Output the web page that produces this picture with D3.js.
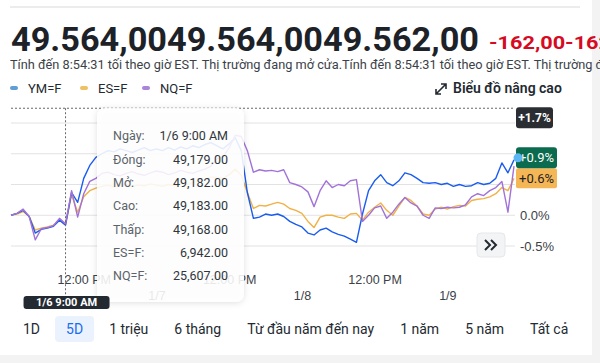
<!DOCTYPE html>
<html>
<head>
<meta charset="utf-8">
<script src="https://cdn.jsdelivr.net/npm/d3@7"></script>
<style>
  body { margin: 0; background: #fff; }
  svg { display: block; font-family: Roboto, "Liberation Sans", Arial, sans-serif; }
</style>
</head>
<body>
<div id="chart"></div>
<script>
// ---- data ----
// hours after 1/6 00:00 EST
var hours = [0,1,2,3,4,5,6,7,8,9,10,11,12,13,14,15,16,17,18,19,20,21,22,23,24,25,26,27,28,29,
  30,31,32,33,34,35,36,37,38,39,40,41,42,43,44,45,46,47,48,49,50,51,52,53,54,55,56,57,58,59,
  60,61,62,63,64,65,66,67,68,69,70,71,72,73,74,75,76,77,78,79,80,81,82,83];

// % change, YM=F
var ymValues = [0.00,0.03,0.08,-0.02,-0.29,-0.23,-0.21,-0.18,-0.08,-0.16,
  0.37,0.21,0.60,0.81,0.94,1.00,1.05,1.03,1.08,1.05,
  1.02,1.06,1.10,1.05,1.08,1.05,1.10,1.06,1.11,1.08,
  1.13,1.10,1.15,1.18,1.13,1.08,1.16,1.26,1.05,0.37,
  -0.05,-0.03,0.02,0.00,0.02,-0.02,-0.10,-0.15,-0.19,-0.29,
  -0.32,-0.24,-0.21,-0.27,-0.31,-0.34,-0.39,-0.44,0.02,0.40,
  0.56,0.66,0.53,0.48,0.56,0.69,0.66,0.60,0.53,0.52,
  0.53,0.50,0.52,0.47,0.50,0.47,0.48,0.53,0.50,0.52,
  0.60,0.85,0.69,0.90];

// % change, ES=F
var esValues = [0.00,0.02,0.06,-0.02,-0.24,-0.21,-0.19,-0.16,-0.08,-0.15,
  0.33,0.05,0.30,0.40,0.44,0.47,0.49,0.46,0.48,0.50,
  0.47,0.49,0.48,0.51,0.49,0.47,0.50,0.48,0.52,0.50,
  0.53,0.55,0.58,0.62,0.62,0.60,0.66,0.75,0.65,0.37,
  0.11,0.16,0.15,0.18,0.21,0.18,0.11,0.08,0.03,-0.10,
  -0.20,-0.03,0.00,0.00,-0.03,-0.05,0.02,0.03,-0.08,0.05,
  0.13,0.20,0.08,0.00,0.15,0.29,0.24,0.15,0.02,0.00,
  0.10,0.13,0.10,0.14,0.16,0.15,0.24,0.26,0.27,0.30,
  0.35,0.45,0.40,0.60];

// % change, NQ=F
var nqValues = [0.00,0.03,0.10,-0.02,-0.40,-0.22,-0.20,-0.17,-0.05,-0.14,
  0.40,-0.03,0.35,0.55,0.60,0.68,0.70,0.66,0.64,0.68,
  0.71,0.67,0.65,0.69,0.72,0.70,0.66,0.69,0.73,0.70,
  0.68,0.72,0.75,0.80,0.92,0.95,1.10,1.30,1.28,1.05,
  0.70,0.74,0.72,0.73,0.71,0.74,0.53,0.50,0.46,0.38,
  0.14,0.40,0.56,0.45,0.50,0.48,0.56,0.58,-0.10,0.00,
  0.12,0.15,-0.05,0.05,0.18,0.29,0.20,0.15,0.00,-0.05,
  0.12,0.11,0.13,0.12,0.13,0.17,0.30,0.35,0.32,0.40,
  0.45,0.55,0.05,0.80];

var seriesNames = ["YM=F", "ES=F", "NQ=F"];
var gridValues = [1.5, 1.0, 0.5, 0.0, -0.5];
var axisLabelValues = [0.0, -0.5];
var noonTicks = ["2026-01-06 12:00", "2026-01-07 12:00", "2026-01-08 12:00"];
var dayTicks = ["2026-01-07 00:00", "2026-01-08 00:00", "2026-01-09 00:00"];
var crosshairHour = 9;
var crosshairValue = 1.74;
var tipLabels = ["Ngày:", "Đóng:", "Mở:", "Cao:", "Thấp:", "ES=F:", "NQ=F:"];
var tipValues = ["1/6 9:00 AM", "49,179.00", "49,182.00", "49,183.00", "49,168.00", "6,942.00", "25,607.00"];
var rangeButtons = ["1D", "5D", "1 triệu", "6 tháng", "Từ đầu năm đến nay", "1 năm", "5 năm", "Tất cả"];

// ---- page ----
var W = 600, H = 363;
var svg = d3.select("#chart").append("svg")
    .attr("width", W)
    .attr("height", H);

var defs = svg.append("defs");
var shadow = defs.append("filter").attr("id", "tipShadow")
    .attr("x", "-20%").attr("y", "-20%").attr("width", "140%").attr("height", "140%");
shadow.append("feDropShadow").attr("dx", 0).attr("dy", 1).attr("stdDeviation", 3)
    .attr("flood-color", "#000").attr("flood-opacity", 0.14);

// page frame (gray strips at right and bottom)
svg.append("rect").attr("x", 592).attr("y", 0).attr("width", 8).attr("height", H).attr("fill", "#f3f3f3");
svg.append("rect").attr("x", 0).attr("y", 355).attr("width", W).attr("height", 8).attr("fill", "#f3f3f3");
svg.append("line").attr("x1", 10).attr("x2", 580).attr("y1", 7).attr("y2", 7)
    .attr("stroke", "#e6e6e6").attr("stroke-width", 1.5);

// header
svg.append("text").attr("x", 11).attr("y", 51)
    .attr("font-size", 34).attr("font-weight", 700).attr("fill", "#1d2228")
    .attr("textLength", 468).attr("lengthAdjust", "spacingAndGlyphs")
    .text("49.564,0049.564,0049.562,00");
svg.append("text").attr("x", 489).attr("y", 49)
    .attr("font-size", 18).attr("font-weight", 700).attr("fill", "#d60a22")
    .attr("textLength", 122).attr("lengthAdjust", "spacingAndGlyphs")
    .text("-162,00-162");
svg.append("text").attr("x", 10).attr("y", 69)
    .attr("font-size", 12.5).attr("fill", "#3b4148")
    .attr("textLength", 664).attr("lengthAdjust", "spacingAndGlyphs")
    .text("Tính đến 8:54:31 tối theo giờ EST. Thị trường đang mở cửa.Tính đến 8:54:31 tối theo giờ EST. Thị trường đang mở cửa.");

// scales
var parseT = d3.timeParse("%Y-%m-%d %H:%M");
var t0 = parseT("2026-01-06 00:00");
function toTime(h) { return d3.timeHour.offset(t0, h); }

var x = d3.scaleTime()
    .domain([toTime(hours[0]), toTime(hours[hours.length - 1])])
    .range([11, 514]);
var y = d3.scaleLinear()
    .domain([-0.5, 1.5])
    .range([246, 123]);

var color = d3.scaleOrdinal().domain(seriesNames).range(["#1a5cf0", "#f0b146", "#a172d8"]);
var legendColor = d3.scaleOrdinal().domain(seriesNames).range(["#5f9fd6", "#efc064", "#a985da"]);

// legend
var legendX = [10, 80, 142];
var legend = svg.append("g");
seriesNames.forEach(function (name, i) {
  legend.append("rect").attr("x", legendX[i]).attr("y", 86).attr("width", 8).attr("height", 4).attr("rx", 2)
      .attr("fill", legendColor(name));
  legend.append("text").attr("x", legendX[i] + 18).attr("y", 88).attr("dy", "0.35em")
      .attr("font-size", 13).attr("fill", "#232a31").text(name);
});

// advanced chart link
svg.append("path")
    .attr("d", "M436,94 L446,84 M441,84 L446,84 L446,89 M436,89 L436,94 L441,94")
    .attr("fill", "none").attr("stroke", "#232a31").attr("stroke-width", 1.6);
svg.append("text").attr("x", 453).attr("y", 88).attr("dy", "0.35em")
    .attr("font-size", 14).attr("font-weight", 600).attr("fill", "#232a31")
    .text("Biểu đồ nâng cao");

// gridlines
svg.append("g")
  .selectAll("line")
  .data(gridValues)
  .enter()
  .append("line")
    .attr("x1", 11).attr("x2", 515)
    .attr("y1", function (d) { return y(d); })
    .attr("y2", function (d) { return y(d); })
    .attr("stroke", "#e2e2e2").attr("stroke-width", 1);

// y labels
var yAxis = svg.append("g")
    .attr("transform", "translate(514,0)")
    .call(d3.axisRight(y).tickValues(axisLabelValues).tickSize(0).tickPadding(6)
      .tickFormat(function (d) { return d.toFixed(1) + "%"; }));
yAxis.select(".domain").remove();
yAxis.selectAll("text").attr("font-size", 13).attr("fill", "#3b4148").attr("font-family", null);

// x labels (two rows)
var noonAxis = svg.append("g")
    .attr("transform", "translate(0,270)")
    .call(d3.axisBottom(x).tickValues(noonTicks.map(parseT)).tickSize(0).tickPadding(5)
      .tickFormat(d3.timeFormat("%-I:%M %p")));
var dayAxis = svg.append("g")
    .attr("transform", "translate(0,286)")
    .call(d3.axisBottom(x).tickValues(dayTicks.map(parseT)).tickSize(0).tickPadding(5)
      .tickFormat(d3.timeFormat("%-m/%-d")));
[noonAxis, dayAxis].forEach(function (ax) {
  ax.select(".domain").remove();
  ax.selectAll("text").attr("font-size", 12.5).attr("fill", "#3b4148").attr("font-family", null);
});

// lines
var line = d3.line()
    .x(function (d) { return x(toTime(d.h)); })
    .y(function (d) { return y(d.v); });
var seriesData = {
  "YM=F": ymValues,
  "ES=F": esValues,
  "NQ=F": nqValues
};
["ES=F", "YM=F", "NQ=F"].forEach(function (name) {
  var pts = hours.map(function (h, i) { return {h: h, v: seriesData[name][i]}; });
  svg.append("path")
      .datum(pts)
      .attr("fill", "none")
      .attr("stroke", color(name))
      .attr("stroke-width", 1.4)
      .attr("stroke-linejoin", "round")
      .attr("d", line);
});

// crosshair
var cx = x(toTime(crosshairHour)), cy = y(crosshairValue);
svg.append("line").attr("x1", 11).attr("x2", 514).attr("y1", cy).attr("y2", cy)
    .attr("stroke", "#666").attr("stroke-dasharray", "2,2").attr("stroke-width", 1);
svg.append("line").attr("x1", cx).attr("x2", cx).attr("y1", cy).attr("y2", 297)
    .attr("stroke", "#666").attr("stroke-dasharray", "2,2").attr("stroke-width", 1);

// tooltip
svg.append("rect").attr("x", 97).attr("y", 108).attr("width", 147).attr("height", 194).attr("rx", 8)
    .attr("fill", "#fff").attr("fill-opacity", 0.87).attr("filter", "url(#tipShadow)");
var row = d3.scalePoint().domain(tipLabels).range([136, 276]);
var tip = svg.append("g").attr("font-size", 12.5);
tip.selectAll(".lab").data(tipLabels).enter().append("text")
    .attr("x", 113).attr("y", function (d) { return row(d); }).attr("dy", "0.35em")
    .attr("fill", "#5b636a").text(function (d) { return d; });
tip.selectAll(".val").data(tipValues).enter().append("text")
    .attr("x", 228).attr("y", function (d, i) { return row(tipLabels[i]); }).attr("dy", "0.35em")
    .attr("text-anchor", "end").attr("fill", "#30363c").text(function (d) { return d; });

// crosshair time badge
svg.append("rect").attr("x", cx - 42).attr("y", 296).attr("width", 86).attr("height", 13).attr("rx", 3)
    .attr("fill", "#232a31");
svg.append("text").attr("x", cx + 1).attr("y", 302.5).attr("dy", "0.35em").attr("text-anchor", "middle")
    .attr("font-size", 11).attr("font-weight", 700).attr("fill", "#fff")
    .text(tipValues[0]);

// right side value badges
var fmtPct = function (v) { return d3.format("+.1f")(v).replace("\u2212", "-") + "%"; };
svg.append("rect").attr("x", 516).attr("y", cy - 1).attr("width", 37).attr("height", 21).attr("rx", 3)
    .attr("fill", "#2a2e33");
svg.append("text").attr("x", 534.5).attr("y", cy + 9.5).attr("dy", "0.35em").attr("text-anchor", "middle")
    .attr("font-size", 12).attr("font-weight", 700).attr("fill", "#fff").text(fmtPct(crosshairValue));

var esLast = esValues[esValues.length - 1], ymLast = ymValues[ymValues.length - 1];
var esY = y(esLast);
svg.append("rect").attr("x", 516).attr("y", esY - 10).attr("width", 41).attr("height", 20).attr("rx", 2)
    .attr("fill", "#f5b756");
svg.append("text").attr("x", 536.5).attr("y", esY).attr("dy", "0.35em").attr("text-anchor", "middle")
    .attr("font-size", 13).attr("fill", "#1d2228").text(fmtPct(esLast));
svg.append("rect").attr("x", 516).attr("y", esY - 31).attr("width", 41).attr("height", 21).attr("rx", 3)
    .attr("fill", "#0b6b4e");
svg.append("text").attr("x", 536.5).attr("y", esY - 20.5).attr("dy", "0.35em").attr("text-anchor", "middle")
    .attr("font-size", 13).attr("fill", "#fff").text(fmtPct(ymLast));
svg.append("circle").attr("cx", x(toTime(hours[hours.length - 1])) + 4).attr("cy", esY - 20.5).attr("r", 4.5)
    .attr("fill", "#5cb6f2");

// scroll button
svg.append("rect").attr("x", 477).attr("y", 233).attr("width", 28).attr("height", 24).attr("rx", 4)
    .attr("fill", "#f3f4f6").attr("stroke", "#e6e7ea");
svg.append("path").attr("d", "M485,240 L490,245 L485,250 M491,240 L496,245 L491,250")
    .attr("fill", "none").attr("stroke", "#232a31").attr("stroke-width", 2);

// range buttons
var bx = 23;
var btns = svg.append("g");
rangeButtons.forEach(function (label) {
  var t = btns.append("text").attr("x", bx).attr("y", 329).attr("dy", "0.35em")
      .attr("font-size", 14).attr("fill", label === "5D" ? "#1a6cf0" : "#232a31").text(label);
  var w = t.node().getComputedTextLength();
  if (label === "5D") {
    btns.insert("rect", "text").attr("x", bx - 11).attr("y", 316).attr("width", w + 22).attr("height", 26)
        .attr("rx", 4).attr("fill", "#eaf2fd");
  }
  bx += w + 26;
});
</script>
</body>
</html>
